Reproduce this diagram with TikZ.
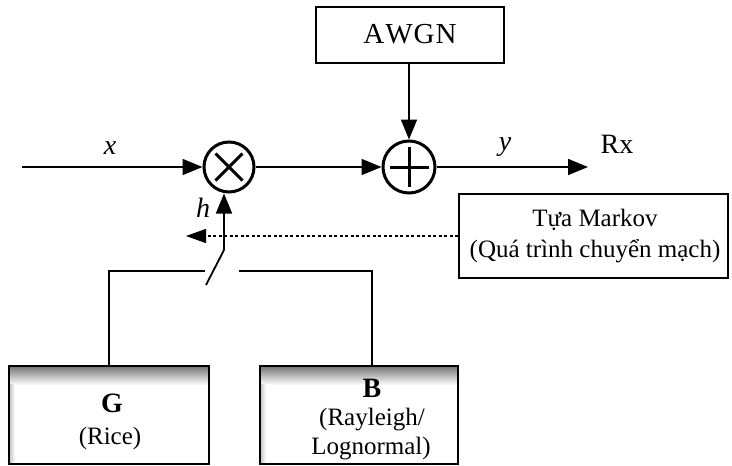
\documentclass[tikz,border=0pt]{standalone}
\usepackage{fontspec}
\setmainfont{Liberation Serif}
\usetikzlibrary{arrows.meta,calc}

\tikzset{
  wire/.style={line width=1.8pt},
  flow/.style={wire,-{Triangle[length=20pt,width=16pt]}},
  ctrl/.style={line width=1.3pt,dash pattern=on 3pt off 2.5pt,-{Triangle[length=20pt,width=14pt]}},
  blockbox/.style={draw,line width=1.8pt,inner sep=0pt},
  srcbox/.style={line width=2.2pt,inner sep=0pt},
  opcircle/.style={circle,draw,line width=3pt,inner sep=0pt},
  txt/.style={font=\fontsize{25}{30}\selectfont,inner sep=0pt},
  bigtxt/.style={font=\fontsize{28}{32}\selectfont,inner sep=0pt},
  sym/.style={font=\fontsize{28}{32}\selectfont\itshape,inner sep=0pt},
}

\begin{document}
\begin{tikzpicture}[x=1pt,y=-1pt]
\useasboundingbox (0,0) rectangle (732,466);

% signal path blocks
\node[blockbox,minimum width=188pt,minimum height=56pt] (awgn) at (410,35) {};
\node[bigtxt,font=\fontsize{29}{32}\selectfont] (awgnlbl) at (410,34) {A\kern1pt W\kern1pt G\kern1pt N};
\node[opcircle,minimum size=50pt] (mult) at (229,167) {};
\node[opcircle,minimum size=52pt] (add) at (409,167) {};

% multiplier cross and adder plus
\draw[line width=3pt] ($(mult)+(-13.5,-13.5)$) -- ($(mult)+(13.5,13.5)$);
\draw[line width=3pt] ($(mult)+(-13.5,13.5)$) -- ($(mult)+(13.5,-13.5)$);
\draw[line width=3pt] ($(add)+(-19.5,0)$) -- ($(add)+(19.5,0)$);
\draw[line width=3pt] ($(add)+(0,-20)$) -- ($(add)+(0,20)$);

% switching process block
\node[blockbox,minimum width=269pt,minimum height=84pt] (markov) at (593.5,236) {};
\node[txt,align=center,font=\fontsize{25}{31}\selectfont] (markovlbl) at (595,236.5)
  {Tựa Markov\\(Quá trình chuyển mạch)};

% channel state blocks with shaded top edge
\node[srcbox,minimum width=198pt,minimum height=96pt] (gbox) at (109,415) {};
\node[srcbox,minimum width=196pt,minimum height=96pt] (bbox) at (359,415) {};
\foreach \b in {gbox,bbox}{
  \fill[top color=black!55,bottom color=white] (\b.north west) rectangle ($(\b.north east)+(0,19)$);
  \fill[left color=black!25,right color=white] ($(\b.north west)+(0,19)$) rectangle ($(\b.south west)+(6,0)$);
  \draw[line width=2.2pt] (\b.north west) rectangle (\b.south east);
}
\node[bigtxt,font=\fontsize{28}{32}\selectfont\bfseries] (glbl) at (112,403) {G};
\node[txt] (gsub) at (110,438) {(Rice)};
\node[bigtxt,font=\fontsize{28}{32}\selectfont\bfseries] (blbl) at (372,388) {B};
\node[txt] (bsub1) at (372,420) {(Rayleigh/};
\node[txt] (bsub2) at (371,449) {Lognormal)};

% free ends and switch points
\coordinate (xin) at (22,167);
\coordinate (rx) at (588,167);
\coordinate (swtop) at (224,250);
\coordinate (swbot) at (206,285);
\coordinate (swL) at (205,271);
\coordinate (swR) at (239,271);
\coordinate (gcorner) at (109,271);
\coordinate (bcorner) at (372,271);
\coordinate (ctrltip) at (186,236);

% connectors
\draw[flow] (xin) -- (mult.west);
\draw[flow] (mult.east) -- (add.west);
\draw[flow] (awgn.south -| add) -- (add.north);
\draw[flow] (add.east) -- (rx);
\draw[flow] (swtop) -- (swtop |- mult.south);
\draw[wire] (swtop) -- (swbot);
\draw[wire] (swL) -- (gcorner) -- (gbox.north);
\draw[wire] (swR) -- (bcorner) -- (bcorner |- bbox.north);
\draw[ctrl] (markov.west) -- (ctrltip);

% signal labels
\node[sym] (xlbl) at (110,148) {x};
\node[sym] (ylbl) at (505,147) {y};
\node[sym] (hlbl) at (203,208) {h};
\node[bigtxt] (rxlbl) at (617,144) {Rx};
\end{tikzpicture}
\end{document}
